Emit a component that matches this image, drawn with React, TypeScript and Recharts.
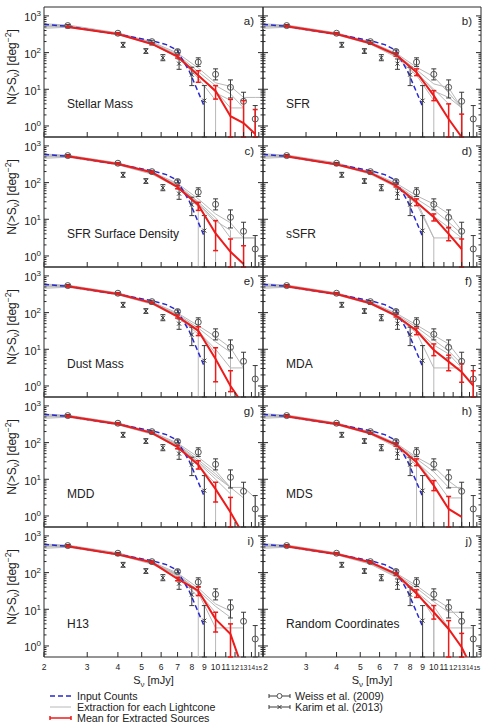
import React from 'react';
import { ComposedChart, Line, XAxis, YAxis, ErrorBar, ReferenceArea } from 'recharts';

const FONT = '"Liberation Sans", Arial, Helvetica, sans-serif';
const AXIS = '#2a2a2a';
const GREY = '#b8b8b8';
const BLUE = '#2828d0';
const RED = '#ee1b1b';
const OBS = '#3a3a3a';
const FLOOR = 0.01; // "no sources" -> drop below the axis
const Y_MIN = 0.5;
const Y_MAX = 1750;
const X_MIN = 2;
const X_MAX = 15.6;

// flux bins in mJy
const bins = [2, 2.5, 4, 5.5, 7, 8.5, 10, 11.5, 13, 14.5, 15.6];
const meanBins = [2.5, 4, 5.5, 7, 8.5, 10, 11.5, 13, 14.5];

const xTicks = [2, 3, 4, 5, 6, 7, 8, 9, 10, 11, 12, 13, 14, 15];
const yMajor = [1, 10, 100, 1000];
const yTicks = [0.6, 0.7, 0.8, 0.9, 1, 2, 3, 4, 5, 6, 7, 8, 9, 10, 20, 30, 40, 50, 60, 70, 80, 90,
  100, 200, 300, 400, 500, 600, 700, 800, 900, 1000];

// input counts (same in every panel)
const inputX = [2, 2.5, 4, 5.5, 6.3, 7, 7.3, 7.8, 8.4, 8.95];
const inputY = [585, 520, 315, 212, 165, 115, 67, 32, 10, 3.7];

// Weiss et al. (2009)
const weissX = [2.5, 4, 5.5, 7, 8.5, 10, 11.5, 13, 14.5];
const weissY = [545, 337, 199, 107, 55, 25.6, 11.3, 4.7, 1.55];
const weissLo = [515, 320, 188, 98, 42, 18, 5.8, 0, 0];
const weissHi = [580, 355, 210, 118, 72, 36, 18, 8.3, 3.6];

// Karim et al. (2013)
const karimX = [4.2, 5.2, 6.1, 7.1, 8.0, 9.0];
const karimY = [160, 110, 72, 50, 25, 4.9];
const karimLo = [140, 95, 60, 35, 12.6, 0];
const karimHi = [190, 128, 88, 67, 40, 12.6];

// mean for extracted sources, per panel (at meanBins)
const meanA = [500, 323, 172, 78, 23.6, 9, 1.85, 1.2, 0.6];
const meanLoA = [475, 307, 162, 71, 15.5, 5.4, 0, 0, 0];
const meanHiA = [525, 340, 182, 86, 32, 12.6, 5.3, 4.9, 2.8];
const meanB = [520, 323, 180, 88, 29, 6.7, 1.55, 0.5];
const meanLoB = [495, 307, 170, 80, 23.6, 4.9, 0, 0];
const meanHiB = [546, 340, 190, 96, 36, 9.2, 4.0, 2.1];
const meanC = [520, 323, 191, 75, 24.5, 4.1, 1.3, 0.6];
const meanLoC = [495, 307, 180, 68, 17.5, 1.4, 0, 0];
const meanHiC = [546, 340, 202, 82, 29, 9.2, 2.9, 1.9];
const meanD = [520, 310, 184, 83, 29, 11.3, 4.0, 1.55];
const meanLoD = [495, 295, 174, 76, 23.6, 9, 2.6, 0];
const meanHiD = [546, 326, 194, 90, 36, 14, 6, 2.9];
const meanE = [520, 323, 184, 78, 32, 5.4, 1.0, 0.3];
const meanLoE = [495, 307, 174, 71, 23.6, 1.3, 0.7, null];
const meanHiE = [546, 340, 194, 86, 41, 11, 2.6, null];
const meanF = [520, 323, 180, 83, 32, 9.6, 4.6, 2.4, 1.02];
const meanLoF = [495, 307, 170, 76, 25, 6.7, 2.6, 1.26, 0];
const meanHiF = [546, 340, 190, 90, 38, 14, 6.9, 4.0, 2.6];
const meanG = [520, 323, 184, 75, 25, 5.4, 1.26, 0.3];
const meanLoG = [495, 307, 174, 68, 19, 2.4, 0, null];
const meanHiG = [546, 340, 194, 82, 32, 8.3, 3.2, null];
const meanH = [520, 323, 180, 88, 29, 6.7, 1.55, 0.95];
const meanLoH = [495, 307, 170, 80, 23.6, 4.9, 0, null];
const meanHiH = [546, 340, 190, 96, 36, 9.2, 3.4, null];
const meanI = [520, 310, 191, 67, 32, 5.4, 2.1, 0.2];
const meanLoI = [495, 295, 180, 60, 23.6, 2.4, 0, null];
const meanHiI = [546, 326, 202, 74, 40, 8.3, 4.0, null];
const meanJ = [520, 323, 191, 92, 27, 8.3, 2.9, 0.92, 0.21];
const meanLoJ = [495, 307, 180, 84, 21, 5.4, 0, 0, null];
const meanHiJ = [546, 340, 202, 100, 34, 12.6, 4.9, 2.2, null];

// extraction for each lightcone (at bins; 0 = no more sources)
const greyA = [
  [610, 565, 345, 196, 97, 38, 15, 12, 6, 6, 6],
  [560, 540, 330, 188, 88, 30, 12.6, 7.5, 3.1, 0],
  [500, 510, 315, 178, 80, 24, 9, 3.1, 3.1, 0],
  [460, 490, 305, 170, 75, 20, 5, 0],
  [520, 520, 320, 182, 84, 26, 8, 5, 0],
];
const greyB = [
  [610, 565, 345, 196, 97, 40, 22, 8, 3.1, 0],
  [560, 540, 330, 188, 90, 34, 14, 11, 3.1, 0],
  [500, 510, 315, 178, 82, 28, 10, 4, 0],
  [460, 490, 305, 170, 76, 24, 5, 0],
  [520, 520, 320, 182, 86, 30, 9, 6, 3.1, 0],
];
const greyC = [
  [600, 560, 345, 196, 95, 36, 14, 8, 3.1, 3.1, 0],
  [560, 540, 330, 188, 88, 30, 11, 3.1, 3.1, 3.1, 0],
  [500, 510, 315, 178, 80, 26, 8, 0],
  [460, 490, 305, 170, 74, 22, 0],
  [520, 520, 320, 182, 84, 28, 9, 5, 0],
];
const greyD = [
  [610, 565, 345, 196, 97, 44, 26, 14, 4.9, 0],
  [560, 540, 330, 188, 90, 36, 18, 8.3, 4, 0],
  [500, 510, 315, 178, 82, 30, 12, 6, 3.1, 0],
  [460, 490, 305, 170, 76, 26, 3.1, 3.1, 3.1, 0],
  [520, 520, 320, 182, 86, 32, 3.1, 0],
];
const greyE = [
  [600, 560, 345, 196, 97, 44, 22, 11, 3.1, 0],
  [560, 540, 330, 188, 90, 38, 16, 8.3, 0],
  [500, 510, 315, 178, 82, 30, 10, 3.1, 3.1, 0],
  [460, 490, 305, 170, 76, 26, 0],
  [520, 520, 320, 182, 86, 34, 7.5, 0],
];
const greyF = [
  [610, 565, 345, 196, 97, 46, 24, 14, 4.9, 0],
  [560, 540, 330, 188, 90, 40, 18, 9, 4, 0],
  [500, 510, 315, 178, 84, 34, 13, 7.5, 3.1, 0],
  [460, 490, 305, 170, 78, 28, 3.1, 3.1, 3.1, 0],
  [520, 520, 320, 182, 86, 32, 10, 0],
];
const greyG = [
  [600, 560, 345, 196, 97, 40, 17, 6, 6, 3.1, 0],
  [560, 540, 330, 188, 90, 34, 14, 6, 0],
  [500, 510, 315, 178, 82, 28, 10, 4, 0],
  [460, 490, 305, 170, 76, 24, 7.5, 0],
  [520, 520, 320, 182, 86, 30, 12, 6, 3.1, 0],
];
const greyH = [
  [610, 565, 345, 196, 97, 40, 22, 9, 4.9, 0],
  [560, 540, 330, 188, 90, 36, 16, 6, 6, 0],
  [500, 510, 315, 178, 82, 30, 11, 3.1, 3.1, 0],
  [460, 490, 305, 170, 76, 24, 0],
  [520, 520, 320, 182, 86, 32, 8, 0],
];
const greyI = [
  [600, 560, 345, 196, 97, 38, 14, 9, 0],
  [560, 540, 330, 188, 90, 32, 12, 6, 0],
  [500, 510, 315, 178, 82, 28, 3.1, 3.1, 3.1, 0],
  [460, 490, 305, 170, 76, 22, 0],
  [520, 520, 320, 182, 86, 30, 8, 0],
];
const greyJ = [
  [610, 565, 345, 196, 97, 44, 20, 11, 4.9, 0],
  [560, 540, 330, 188, 90, 38, 16, 8.3, 8.3, 0],
  [500, 510, 315, 178, 82, 30, 12, 3.1, 3.1, 3.1, 0],
  [460, 490, 305, 170, 76, 26, 8, 0],
  [520, 520, 320, 182, 86, 32, 6, 0],
];

const names = ['Stellar Mass', 'SFR', 'SFR Surface Density', 'sSFR', 'Dust Mass', 'MDA', 'MDD', 'MDS', 'H13', 'Random Coordinates'];
const tags = ['a)', 'b)', 'c)', 'd)', 'e)', 'f)', 'g)', 'h)', 'i)', 'j)'];
const means = [meanA, meanB, meanC, meanD, meanE, meanF, meanG, meanH, meanI, meanJ];
const meanLos = [meanLoA, meanLoB, meanLoC, meanLoD, meanLoE, meanLoF, meanLoG, meanLoH, meanLoI, meanLoJ];
const meanHis = [meanHiA, meanHiB, meanHiC, meanHiD, meanHiE, meanHiF, meanHiG, meanHiH, meanHiI, meanHiJ];
const greys = [greyA, greyB, greyC, greyD, greyE, greyF, greyG, greyH, greyI, greyJ];

// layout
const AXW = 40;
const XAH = 30;
const PH = 130;
const TOP = 7;
const colLeft = [44, 263];
const colW = [219, 218];
// smaller font for the crowded two-digit tick labels
const tickFont: Record<number, number> = { 12: 7.6, 13: 7, 14: 6.5, 15: 6.2 };

const withErr = (xs: number[], ys: number[], lo: (number | null)[], hi: (number | null)[]) =>
  xs.map((x, i) => {
    const y = ys[i];
    if (y === undefined) return null;
    const l = lo[i];
    const h = hi[i];
    // lower error 0 -> bar runs down to the bottom of the panel
    const err = l == null || h == null ? undefined : [y - (l === 0 ? Y_MIN : l), h - y];
    return { x, y, err };
  }).filter(Boolean);

const greyPoints = (vals: number[]) => {
  const pts: { x: number; y: number }[] = [];
  for (let i = 0; i < vals.length; i++) {
    if (vals[i] === 0) {
      pts.push({ x: bins[i - 1], y: FLOOR });
      break;
    }
    pts.push({ x: bins[i], y: vals[i] });
  }
  return pts;
};

const inputData = inputX.map((x, i) => ({ x, y: inputY[i] }));
const weissData = withErr(weissX, weissY, weissLo, weissHi);
const karimData = withErr(karimX, karimY, karimLo, karimHi);

const circleDot = (p: any) => (
  <circle key={`c${p.index}`} cx={p.cx} cy={p.cy} r={3} fill="none" stroke="#555" strokeWidth={1} />
);
const crossDot = (p: any) => (
  <path key={`k${p.index}`} d={`M${p.cx - 2},${p.cy - 2}L${p.cx + 2},${p.cy + 2}M${p.cx - 2},${p.cy + 2}L${p.cx + 2},${p.cy - 2}`}
    stroke={OBS} strokeWidth={1} fill="none" />
);

const makeXTick = (showLabel: boolean, col: number) => (props: any) => {
  const { x, y, payload } = props;
  const v = payload.value;
  const shift = col === 1 && v === 2 ? 2.5 : 0;
  return (
    <g>
      <line x1={x} x2={x} y1={y} y2={y - 5} stroke={AXIS} strokeWidth={1} />
      {showLabel && (
        <text x={x + shift} y={y + 12.5} textAnchor="middle" fontSize={tickFont[v] || 8.5} fill="#222" fontFamily={FONT}>
          {v}
        </text>
      )}
    </g>
  );
};

const makeYTick = (showLabel: boolean, pw: number) => (props: any) => {
  const { x, y, payload } = props;
  const v = payload.value;
  const major = yMajor.includes(v);
  const len = major ? 5 : 2.5;
  return (
    <g>
      <line x1={x} x2={x + len} y1={y} y2={y} stroke={AXIS} strokeWidth={1} />
      <line x1={x + pw} x2={x + pw - len} y1={y} y2={y} stroke={AXIS} strokeWidth={1} />
      {showLabel && major && (
        <text x={x - 3} y={y + 5.5} textAnchor="end" fontSize={11} fill="#222" fontFamily={FONT}>
          10<tspan dy={-5} fontSize={8}>{Math.round(Math.log10(v))}</tspan>
        </text>
      )}
    </g>
  );
};

const Panel = ({ idx }: { idx: number }) => {
  const col = idx % 2;
  const row = Math.floor(idx / 2);
  const pw = colW[col];
  const meanData = withErr(meanBins, means[idx], meanLos[idx], meanHis[idx]);
  return (
    <div style={{ position: 'absolute', left: colLeft[col] - AXW, top: TOP + row * PH - 2 }}>
      <ComposedChart width={AXW + pw + 2} height={PH + XAH + 2} margin={{ top: 2, right: 2, bottom: 0, left: 0 }}>
        <XAxis type="number" dataKey="x" scale="log" domain={[X_MIN, X_MAX]} allowDataOverflow ticks={xTicks}
          interval={0} tickLine={false} tickSize={0} tickMargin={0} axisLine={false} height={XAH}
          tick={makeXTick(row === 4, col)} />
        <YAxis type="number" scale="log" domain={[Y_MIN, Y_MAX]} allowDataOverflow ticks={yTicks}
          interval={0} tickLine={false} tickSize={0} tickMargin={0} axisLine={false} width={AXW}
          tick={makeYTick(col === 0, pw)} />
        {greys[idx].map((g, k) => (
          <Line key={`g${k}`} data={greyPoints(g)} dataKey="y" type="linear" stroke={GREY} strokeWidth={1}
            dot={false} activeDot={false} isAnimationActive={false} />
        ))}
        <Line data={inputData} dataKey="y" type="linear" stroke={BLUE} strokeWidth={1.5} strokeDasharray="5 3"
          dot={false} activeDot={false} isAnimationActive={false} />
        <Line data={weissData} dataKey="y" stroke="none" dot={circleDot} activeDot={false} isAnimationActive={false}>
          <ErrorBar dataKey="err" direction="y" width={2.5} stroke={OBS} strokeWidth={1} isAnimationActive={false} />
        </Line>
        <Line data={karimData} dataKey="y" stroke="none" dot={crossDot} activeDot={false} isAnimationActive={false}>
          <ErrorBar dataKey="err" direction="y" width={2.5} stroke={OBS} strokeWidth={1} isAnimationActive={false} />
        </Line>
        <Line data={meanData} dataKey="y" type="linear" stroke={RED} strokeWidth={2} dot={false} activeDot={false}
          isAnimationActive={false}>
          <ErrorBar dataKey="err" direction="y" width={2.5} stroke={RED} strokeWidth={1.5} isAnimationActive={false} />
        </Line>
        <ReferenceArea x1={X_MIN} x2={X_MAX} y1={Y_MIN} y2={Y_MAX} fill="none" stroke={AXIS} strokeWidth={1}
          ifOverflow="visible" />
      </ComposedChart>
    </div>
  );
};

const Texts = () => (
  <svg width={488} height={724} style={{ position: 'absolute', left: 0, top: 0, pointerEvents: 'none' }}
    fontFamily={FONT} fill="#222">
    {names.map((n, i) => {
      const col = i % 2;
      const rowTop = TOP + Math.floor(i / 2) * PH;
      return (
        <g key={n}>
          <text x={colLeft[col] + 23} y={rowTop + 101} fontSize={12}>{n}</text>
          <text x={colLeft[col] + colW[col] - 9} y={rowTop + 17.5} fontSize={11.5} textAnchor="end">{tags[i]}</text>
          {col === 0 && (
            <text transform={`translate(16, ${rowTop + 60}) rotate(-90)`} textAnchor="middle" fontSize={12}>
              N(&gt;S<tspan dy={3} fontSize={8.5}>ν</tspan><tspan dy={-3}>) [deg</tspan>
              <tspan dy={-5} fontSize={8.5}>−2</tspan><tspan dy={5}>]</tspan>
            </text>
          )}
        </g>
      );
    })}
    {[0, 1].map((c) => (
      <text key={c} x={colLeft[c] + colW[c] / 2} y={684} textAnchor="middle" fontSize={11}>
        S<tspan dy={3} fontSize={8}>ν</tspan><tspan dy={-3}> [mJy]</tspan>
      </text>
    ))}
    {/* legend */}
    <g fontSize={10.7}>
      <line x1={50} x2={71} y1={696} y2={696} stroke={BLUE} strokeWidth={1.5} strokeDasharray="5 3" />
      <text x={77} y={699.8}>Input Counts</text>
      <line x1={50} x2={71} y1={707} y2={707} stroke={GREY} strokeWidth={1} />
      <text x={77} y={710.8}>Extraction for each Lightcone</text>
      <path d="M50,718H71M50,716V720M71,716V720" stroke={RED} strokeWidth={1.5} fill="none" />
      <text x={77} y={721.8}>Mean for Extracted Sources</text>
      <path d="M269,696H290M269,694V698M290,694V698" stroke={OBS} strokeWidth={1} fill="none" />
      <circle cx={279.5} cy={696} r={2.5} fill="#fff" stroke="#555" strokeWidth={1} />
      <text x={295} y={699.8}>Weiss et al. (2009)</text>
      <path d="M269,707H290M269,705V709M290,705V709M277.5,705L281.5,709M277.5,709L281.5,705" stroke={OBS}
        strokeWidth={1} fill="none" />
      <text x={295} y={710.8}>Karim et al. (2013)</text>
    </g>
  </svg>
);

export default function App() {
  return (
    <div style={{ position: 'absolute', left: 0, top: 0, width: 488, height: 724, background: '#fff', fontFamily: FONT }}>
      {names.map((_, i) => (
        <Panel key={i} idx={i} />
      ))}
      <Texts />
    </div>
  );
}
